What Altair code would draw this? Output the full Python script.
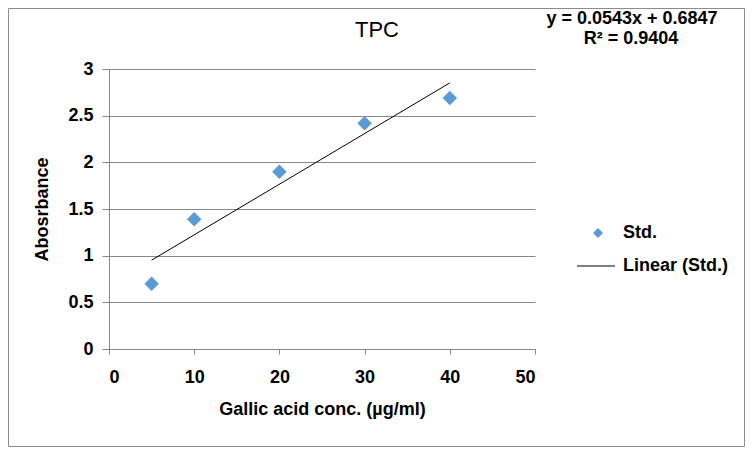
import altair as alt
import pandas as pd

conc = [5, 10, 20, 30, 40]
absorbance = [0.70, 1.39, 1.90, 2.42, 2.69]
x_ticks = [0, 10, 20, 30, 40, 50]
y_ticks = [0, 0.5, 1, 1.5, 2, 2.5, 3]
title_text = ["TPC"]
eq_lines = ["y = 0.0543x + 0.6847", "R² = 0.9404"]
legend_labels = ["Std.", "Linear (Std.)"]

df = pd.DataFrame({"x": conc, "y": absorbance})
FONT = "Liberation Sans"
BLUE = "#5B9BD5"
FS = 18

xs = alt.Scale(domain=[0, 50], nice=False)
ys = alt.Scale(domain=[0, 3], nice=False)

base = alt.Chart(df)

points = base.mark_point(shape="diamond", filled=True, size=210, color=BLUE, opacity=1).encode(
    x=alt.X("x:Q", scale=xs, axis=alt.Axis(values=x_ticks, title="Gallic acid conc. (µg/ml)",
                                           grid=False, titlePadding=14, labelPadding=14)),
    y=alt.Y("y:Q", scale=ys, axis=alt.Axis(values=y_ticks, title="Abosrbance", grid=True,
                                           format=".1~f", titlePadding=16, labelPadding=9,
                                           tickSize=7)),
)

trend = base.transform_regression("x", "y", extent=[5, 40]).mark_line(
    color="black", strokeWidth=1
).encode(x=alt.X("x:Q", scale=xs), y=alt.Y("y:Q", scale=ys))

title_df = pd.DataFrame({"t": title_text})
title = alt.Chart(title_df).mark_text(font=FONT, fontSize=22, fontWeight="normal", align="center",
                                      baseline="middle", color="black").encode(
    text="t:N", x=alt.value(268), y=alt.value(-39))

eq_df = pd.DataFrame({"t": eq_lines})
eq1 = alt.Chart(eq_df.iloc[[0]]).mark_text(font=FONT, fontSize=FS, fontWeight="bold", align="center",
                                          baseline="middle", color="black").encode(
    text="t:N", x=alt.value(523), y=alt.value(-50))
eq2 = alt.Chart(eq_df.iloc[[1]]).mark_text(font=FONT, fontSize=FS, fontWeight="bold", align="center",
                                          baseline="middle", color="black").encode(
    text="t:N", x=alt.value(522), y=alt.value(-30))

leg_df = pd.DataFrame({"label": legend_labels})
leg_pt = alt.Chart(leg_df.iloc[[0]]).mark_point(shape="diamond", filled=True, size=100, color=BLUE,
                                               opacity=1).encode(x=alt.value(489), y=alt.value(164))
leg_t1 = alt.Chart(leg_df.iloc[[0]]).mark_text(font=FONT, fontSize=FS, fontWeight="bold", align="left",
                                              baseline="middle").encode(
    text="label:N", x=alt.value(514), y=alt.value(164))
leg_line = alt.Chart(leg_df.iloc[[1]]).mark_rule(color="black", strokeWidth=1).encode(
    x=alt.value(468), x2=alt.value(506), y=alt.value(197))
leg_t2 = alt.Chart(leg_df.iloc[[1]]).mark_text(font=FONT, fontSize=FS, fontWeight="bold", align="left",
                                              baseline="middle").encode(
    text="label:N", x=alt.value(514), y=alt.value(197))

border = alt.Chart(leg_df.iloc[[0]]).mark_rect(fill=None, stroke="#8c8c8c", strokeWidth=1).encode(
    x=alt.value(-100.5), x2=alt.value(635.5), y=alt.value(-60.5), y2=alt.value(377.5))

chart = alt.layer(points, trend, title, eq1, eq2, leg_pt, leg_t1, leg_line, leg_t2, border).properties(
    width=426, height=280,
    autosize=alt.AutoSizeParams(type="none"),
    padding={"left": 101, "top": 61, "right": 210, "bottom": 98},
).configure_view(stroke=None).configure_axis(
    labelFont=FONT, labelFontSize=FS, labelFontWeight="bold", labelColor="black",
    titleFont=FONT, titleFontSize=FS, titleFontWeight="bold", titleColor="black",
    domainColor="#888888", tickColor="#888888", gridColor="#888888",
    tickSize=5,
)

chart.save("out.html", embed_options={"renderer": "svg", "actions": False})
